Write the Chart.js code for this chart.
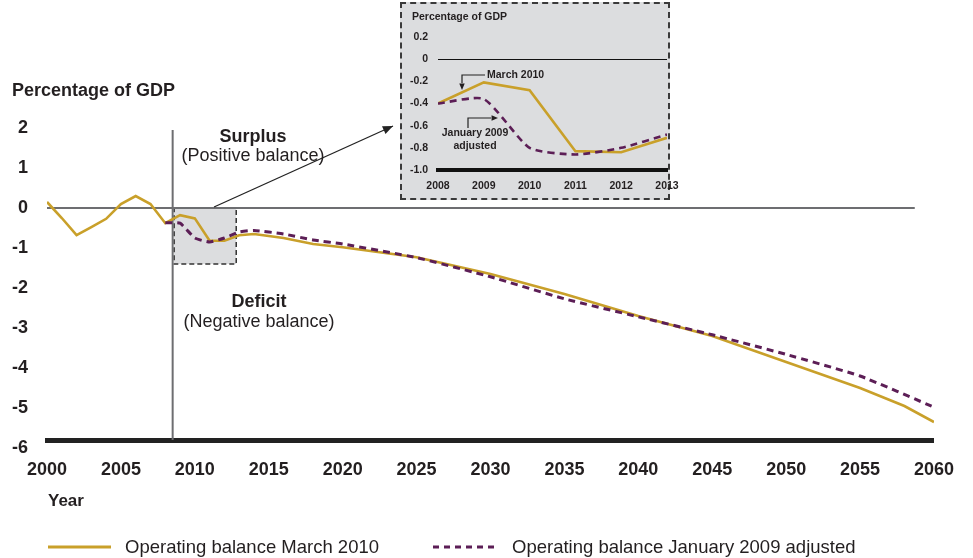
<!DOCTYPE html>
<html>
<head>
<meta charset="utf-8">
<script src="https://cdn.jsdelivr.net/npm/chart.js@4.4.1/dist/chart.umd.min.js"></script>
<style>
  html, body { margin: 0; padding: 0; background: #fff; }
  #wrap { position: relative; width: 973px; height: 558px; overflow: hidden; }
  #main { position: absolute; left: 0; top: 0; }
  #insetBox { position: absolute; left: 400px; top: 2px; width: 270px; height: 198px; box-sizing: border-box;
              border: 2px dashed #3a3a3a; background: #dcdddf; }
  #inset { position: absolute; left: 401px; top: 3px; }
</style>
</head>
<body>
<div id="wrap">
  <canvas id="main" width="973" height="558"></canvas>
  <div id="insetBox"></div>
  <canvas id="inset" width="290" height="196"></canvas>
</div>
<script>
// operating balance, percentage of GDP (main chart)
const marchYears  = [2000, 2001, 2002, 2003, 2004, 2005, 2006, 2007, 2008, 2009, 2010, 2011, 2012, 2013, 2014, 2016, 2018, 2020, 2025, 2030, 2035, 2040, 2045, 2050, 2055, 2058, 2060];
const marchValues = [0.15, -0.25, -0.68, -0.48, -0.27, 0.1, 0.3, 0.1, -0.38, -0.18, -0.26, -0.82, -0.82, -0.68, -0.65, -0.75, -0.9, -0.98, -1.23, -1.65, -2.15, -2.7, -3.2, -3.85, -4.5, -4.95, -5.35];

const janYears  = [2008, 2009, 2010, 2011, 2012, 2013, 2014, 2016, 2018, 2020, 2025, 2030, 2035, 2040, 2045, 2050, 2055, 2060];
const janValues = [-0.37, -0.38, -0.75, -0.85, -0.75, -0.6, -0.56, -0.65, -0.8, -0.9, -1.24, -1.72, -2.27, -2.72, -3.17, -3.66, -4.2, -4.98];

const yTickValues = [2, 1, 0, -1, -2, -3, -4, -5, -6];

// inset (zoom on 2008-2013)
const insetYears = [2008, 2009, 2010, 2011, 2012, 2013];
const insetMarch = [-0.4, -0.21, -0.28, -0.83, -0.84, -0.71];
const insetJan   = [-0.4, -0.36, -0.8, -0.86, -0.8, -0.68];
const insetTickValues = [0.2, 0, -0.2, -0.4, -0.6, -0.8, -1.0];

// annotation anchors (data units)
const projectionYear = 2008.5;
const projectionTop = 1.95;
const zeroLineEnd = 2058.7;
const zoomBox = { x0: 2008.6, x1: 2012.8, y0: 0, y1: -1.4 };

const GOLD = '#c9a02a';
const PURPLE = '#5c1e56';
const INK = '#231f20';
const FONT = '"Liberation Sans", Arial, Helvetica, sans-serif';

const toPoints = (xs, ys) => xs.map((x, i) => ({ x, y: ys[i] }));

function arrowHead(ctx, fromX, fromY, toX, toY, size) {
  const a = Math.atan2(toY - fromY, toX - fromX);
  ctx.beginPath();
  ctx.moveTo(toX, toY);
  ctx.lineTo(toX - size * Math.cos(a - 0.4), toY - size * Math.sin(a - 0.4));
  ctx.lineTo(toX - size * Math.cos(a + 0.4), toY - size * Math.sin(a + 0.4));
  ctx.closePath();
  ctx.fill();
}

const mainDecor = {
  id: 'mainDecor',
  beforeDatasetsDraw(chart) {
    const { ctx, scales: { x, y }, chartArea } = chart;
    ctx.save();
    // shaded zoom box
    const bx0 = x.getPixelForValue(zoomBox.x0), bx1 = x.getPixelForValue(zoomBox.x1);
    const by0 = y.getPixelForValue(zoomBox.y0), by1 = y.getPixelForValue(zoomBox.y1);
    ctx.fillStyle = '#dcdddf';
    ctx.fillRect(bx0, by0, bx1 - bx0, by1 - by0);
    ctx.setLineDash([5, 3]);
    ctx.strokeStyle = '#333';
    ctx.lineWidth = 1.5;
    ctx.strokeRect(bx0, by0, bx1 - bx0, by1 - by0);
    ctx.setLineDash([]);
    // zero line
    ctx.strokeStyle = '#6d6e71';
    ctx.lineWidth = 2;
    ctx.beginPath();
    ctx.moveTo(x.getPixelForValue(2000), y.getPixelForValue(0));
    ctx.lineTo(x.getPixelForValue(zeroLineEnd), y.getPixelForValue(0));
    ctx.stroke();
    // projection start line
    const px = x.getPixelForValue(projectionYear);
    ctx.beginPath();
    ctx.moveTo(px, y.getPixelForValue(projectionTop));
    ctx.lineTo(px, chartArea.bottom);
    ctx.stroke();
    ctx.restore();
  },
  afterDraw(chart) {
    const { ctx, scales: { x, y } } = chart;
    ctx.save();
    ctx.fillStyle = INK;
    ctx.textBaseline = 'middle';

    ctx.textAlign = 'left';
    ctx.font = 'bold 18px ' + FONT;
    ctx.fillText('Percentage of GDP', 12, 91);
    ctx.font = 'bold 17px ' + FONT;
    ctx.fillText('Year', 48, 501);

    ctx.textAlign = 'center';
    ctx.font = 'bold 18px ' + FONT;
    ctx.fillText('Surplus', 253, 137);
    ctx.fillText('Deficit', 259, 302);
    ctx.font = '18px ' + FONT;
    ctx.fillText('(Positive balance)', 253, 156);
    ctx.fillText('(Negative balance)', 259, 322);

    // arrow from zoom box to the inset
    const sx = x.getPixelForValue(2011.3), sy = y.getPixelForValue(0) - 1;
    const ex = 393, ey = 126;
    ctx.strokeStyle = '#222';
    ctx.fillStyle = '#222';
    ctx.lineWidth = 1.3;
    ctx.beginPath();
    ctx.moveTo(sx, sy);
    ctx.lineTo(ex, ey);
    ctx.stroke();
    arrowHead(ctx, sx, sy, ex, ey, 11);

    // legend
    ctx.fillStyle = INK;
    ctx.textAlign = 'left';
    ctx.font = '18.5px ' + FONT;
    ctx.strokeStyle = GOLD;
    ctx.lineWidth = 3;
    ctx.beginPath();
    ctx.moveTo(48, 547);
    ctx.lineTo(111, 547);
    ctx.stroke();
    ctx.fillText('Operating balance March 2010', 125, 548);
    ctx.strokeStyle = PURPLE;
    ctx.setLineDash([6, 5]);
    ctx.beginPath();
    ctx.moveTo(433, 547);
    ctx.lineTo(499, 547);
    ctx.stroke();
    ctx.setLineDash([]);
    ctx.fillText('Operating balance January 2009 adjusted', 512, 548);
    ctx.restore();
  }
};

new Chart(document.getElementById('main'), {
  type: 'line',
  data: {
    datasets: [
      {
        label: 'Operating balance January 2009 adjusted',
        data: toPoints(janYears, janValues),
        borderColor: PURPLE,
        borderWidth: 3,
        borderDash: [7, 5],
        pointRadius: 0,
        tension: 0.15,
        fill: false
      },
      {
        label: 'Operating balance March 2010',
        data: toPoints(marchYears, marchValues),
        borderColor: GOLD,
        borderWidth: 2.6,
        pointRadius: 0,
        tension: 0,
        fill: false
      }
    ]
  },
  options: {
    responsive: false,
    animation: false,
    devicePixelRatio: 1,
    layout: { padding: { left: 0, top: 120, right: 36, bottom: 0 } },
    plugins: { legend: { display: false }, tooltip: { enabled: false } },
    scales: {
      x: {
        type: 'linear',
        min: 2000,
        max: 2060,
        afterFit(scale) { scale.height = 118; },
        grid: { display: false, drawTicks: false },
        border: { display: true, color: '#222', width: 5 },
        ticks: {
          stepSize: 5,
          padding: 19,
          color: INK,
          font: { family: FONT, size: 18, weight: 'bold' },
          callback: v => String(v)
        }
      },
      y: {
        min: -5.8,
        max: 2.2,
        afterFit(scale) { scale.width = 47; },
        afterBuildTicks(scale) { scale.ticks = yTickValues.map(v => ({ value: v })); },
        grid: { display: false, drawTicks: false },
        border: { display: false },
        ticks: {
          padding: 19,
          color: INK,
          autoSkip: false,
          font: { family: FONT, size: 18, weight: 'bold' },
          callback: v => String(v)
        }
      }
    }
  },
  plugins: [mainDecor]
});

const insetDecor = {
  id: 'insetDecor',
  afterDraw(chart) {
    const { ctx } = chart;
    ctx.save();
    ctx.fillStyle = INK;
    ctx.strokeStyle = '#222';
    ctx.lineWidth = 1.2;
    ctx.textBaseline = 'middle';
    ctx.textAlign = 'left';
    ctx.font = 'bold 10.5px ' + FONT;
    ctx.fillText('Percentage of GDP', 11, 14);
    ctx.fillText('March 2010', 86, 72);
    // arrow to March 2010 line
    ctx.beginPath();
    ctx.moveTo(84, 72);
    ctx.lineTo(61, 72);
    ctx.lineTo(61, 80);
    ctx.stroke();
    arrowHead(ctx, 61, 78, 61, 87, 7);
    // January 2009 adjusted
    ctx.textAlign = 'center';
    ctx.fillText('January 2009', 74, 130);
    ctx.fillText('adjusted', 74, 143);
    ctx.beginPath();
    ctx.moveTo(67, 125);
    ctx.lineTo(67, 115);
    ctx.lineTo(90, 115);
    ctx.stroke();
    arrowHead(ctx, 88, 115, 97, 115, 7);
    ctx.restore();
  }
};

new Chart(document.getElementById('inset'), {
  type: 'line',
  data: {
    labels: insetYears,
    datasets: [
      {
        label: 'January 2009 adjusted',
        data: toPoints(insetYears, insetJan),
        borderColor: PURPLE,
        borderWidth: 2.6,
        borderDash: [7, 5],
        pointRadius: 0,
        tension: 0.2,
        fill: false
      },
      {
        label: 'March 2010',
        data: toPoints(insetYears, insetMarch),
        borderColor: GOLD,
        borderWidth: 2.6,
        pointRadius: 0,
        tension: 0,
        fill: false
      }
    ]
  },
  options: {
    responsive: false,
    animation: false,
    devicePixelRatio: 1,
    layout: { padding: { left: 0, top: 34, right: 24, bottom: 0 } },
    plugins: { legend: { display: false }, tooltip: { enabled: false } },
    scales: {
      x: {
        type: 'linear',
        min: 2008,
        max: 2013,
        afterFit(scale) { scale.height = 29; },
        grid: { display: false, drawTicks: false },
        border: { display: true, color: '#111', width: 4 },
        ticks: {
          stepSize: 1,
          padding: 10,
          color: INK,
          font: { family: FONT, size: 10.5, weight: 'bold' },
          callback: v => String(v)
        }
      },
      y: {
        min: -1.0,
        max: 0.2,
        afterFit(scale) { scale.width = 37; },
        afterBuildTicks(scale) { scale.ticks = insetTickValues.map(v => ({ value: v })); },
        grid: {
          display: true,
          drawTicks: false,
          lineWidth: 1,
          color: c => (c.tick && c.tick.value === 0 ? '#111' : 'rgba(0,0,0,0)')
        },
        border: { display: false },
        ticks: {
          padding: 10,
          color: INK,
          autoSkip: false,
          font: { family: FONT, size: 10.5, weight: 'bold' },
          callback: v => (v === 0 ? '0' : v.toFixed(1))
        }
      }
    }
  },
  plugins: [insetDecor]
});
</script>
</body>
</html>
